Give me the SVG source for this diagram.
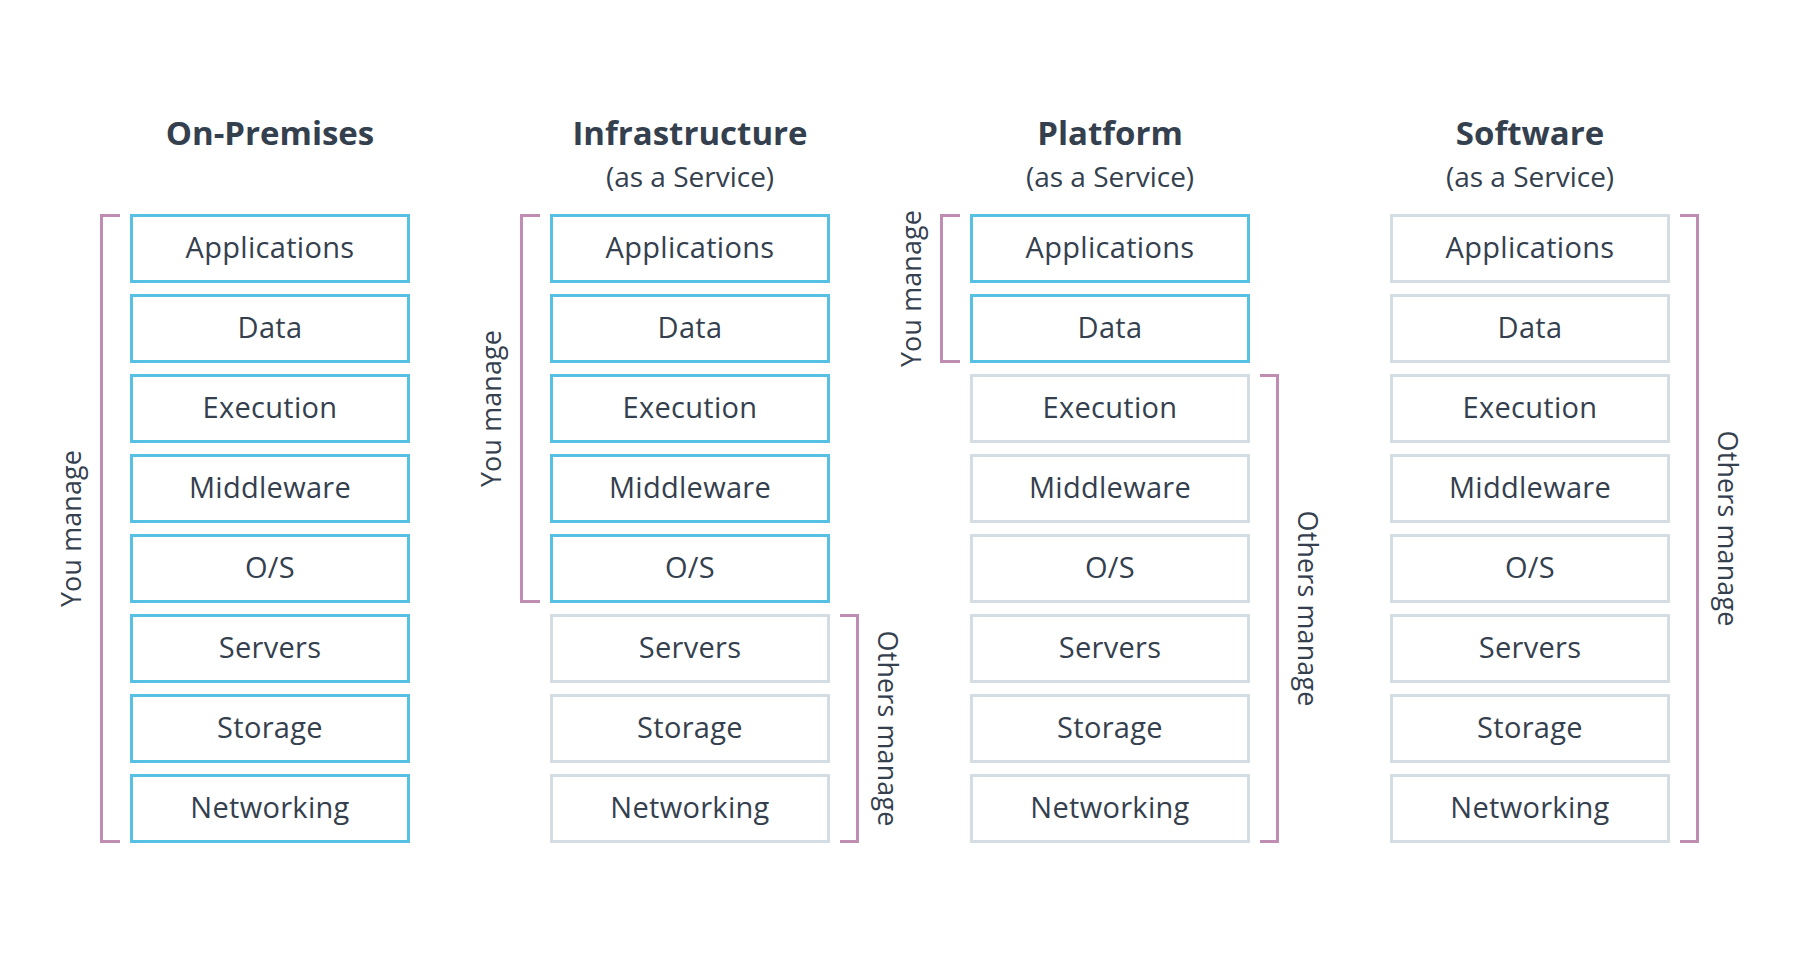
<svg xmlns="http://www.w3.org/2000/svg" width="1800" height="960" viewBox="0 0 1800 960">
<style>
.bg{fill:#ffffff}
.you rect{fill:#ffffff;stroke:#56c1e3;stroke-width:3}
.oth rect{fill:#ffffff;stroke:#d5dde4;stroke-width:3}
text{font-family:"Open Sans","Noto Sans","Liberation Sans",sans-serif;fill:#34404e}
.lbl{font-size:29px;text-anchor:middle;letter-spacing:0.3px}
.title{font-size:33px;font-weight:700;text-anchor:middle}
.sub{font-size:28px;text-anchor:middle}
.side{font-size:26.8px;text-anchor:middle;letter-spacing:0.2px}
.br{fill:none;stroke:#c08db2;stroke-width:3;stroke-linejoin:miter;stroke-linecap:butt}
</style>
<rect class="bg" x="0" y="0" width="1800" height="960"/>

<g id="col-onprem">
<text class="title" x="270" y="145">On-Premises</text>
<g id="onprem-applications" class="you"><rect x="131.5" y="215.5" width="277" height="66"/><text class="lbl" x="270" y="257.5">Applications</text></g>
<g id="onprem-data" class="you"><rect x="131.5" y="295.5" width="277" height="66"/><text class="lbl" x="270" y="337.5">Data</text></g>
<g id="onprem-execution" class="you"><rect x="131.5" y="375.5" width="277" height="66"/><text class="lbl" x="270" y="417.5">Execution</text></g>
<g id="onprem-middleware" class="you"><rect x="131.5" y="455.5" width="277" height="66"/><text class="lbl" x="270" y="497.5">Middleware</text></g>
<g id="onprem-os" class="you"><rect x="131.5" y="535.5" width="277" height="66"/><text class="lbl" x="270" y="577.5">O/S</text></g>
<g id="onprem-servers" class="you"><rect x="131.5" y="615.5" width="277" height="66"/><text class="lbl" x="270" y="657.5">Servers</text></g>
<g id="onprem-storage" class="you"><rect x="131.5" y="695.5" width="277" height="66"/><text class="lbl" x="270" y="737.5">Storage</text></g>
<g id="onprem-networking" class="you"><rect x="131.5" y="775.5" width="277" height="66"/><text class="lbl" x="270" y="817.5">Networking</text></g>
</g>

<g id="col-iaas">
<text class="title" x="690" y="145">Infrastructure</text>
<text class="sub" x="690" y="187">(as a Service)</text>
<g id="iaas-applications" class="you"><rect x="551.5" y="215.5" width="277" height="66"/><text class="lbl" x="690" y="257.5">Applications</text></g>
<g id="iaas-data" class="you"><rect x="551.5" y="295.5" width="277" height="66"/><text class="lbl" x="690" y="337.5">Data</text></g>
<g id="iaas-execution" class="you"><rect x="551.5" y="375.5" width="277" height="66"/><text class="lbl" x="690" y="417.5">Execution</text></g>
<g id="iaas-middleware" class="you"><rect x="551.5" y="455.5" width="277" height="66"/><text class="lbl" x="690" y="497.5">Middleware</text></g>
<g id="iaas-os" class="you"><rect x="551.5" y="535.5" width="277" height="66"/><text class="lbl" x="690" y="577.5">O/S</text></g>
<g id="iaas-servers" class="oth"><rect x="551.5" y="615.5" width="277" height="66"/><text class="lbl" x="690" y="657.5">Servers</text></g>
<g id="iaas-storage" class="oth"><rect x="551.5" y="695.5" width="277" height="66"/><text class="lbl" x="690" y="737.5">Storage</text></g>
<g id="iaas-networking" class="oth"><rect x="551.5" y="775.5" width="277" height="66"/><text class="lbl" x="690" y="817.5">Networking</text></g>
</g>

<g id="col-paas">
<text class="title" x="1110" y="145">Platform</text>
<text class="sub" x="1110" y="187">(as a Service)</text>
<g id="paas-applications" class="you"><rect x="971.5" y="215.5" width="277" height="66"/><text class="lbl" x="1110" y="257.5">Applications</text></g>
<g id="paas-data" class="you"><rect x="971.5" y="295.5" width="277" height="66"/><text class="lbl" x="1110" y="337.5">Data</text></g>
<g id="paas-execution" class="oth"><rect x="971.5" y="375.5" width="277" height="66"/><text class="lbl" x="1110" y="417.5">Execution</text></g>
<g id="paas-middleware" class="oth"><rect x="971.5" y="455.5" width="277" height="66"/><text class="lbl" x="1110" y="497.5">Middleware</text></g>
<g id="paas-os" class="oth"><rect x="971.5" y="535.5" width="277" height="66"/><text class="lbl" x="1110" y="577.5">O/S</text></g>
<g id="paas-servers" class="oth"><rect x="971.5" y="615.5" width="277" height="66"/><text class="lbl" x="1110" y="657.5">Servers</text></g>
<g id="paas-storage" class="oth"><rect x="971.5" y="695.5" width="277" height="66"/><text class="lbl" x="1110" y="737.5">Storage</text></g>
<g id="paas-networking" class="oth"><rect x="971.5" y="775.5" width="277" height="66"/><text class="lbl" x="1110" y="817.5">Networking</text></g>
</g>

<g id="col-saas">
<text class="title" x="1530" y="145">Software</text>
<text class="sub" x="1530" y="187">(as a Service)</text>
<g id="saas-applications" class="oth"><rect x="1391.5" y="215.5" width="277" height="66"/><text class="lbl" x="1530" y="257.5">Applications</text></g>
<g id="saas-data" class="oth"><rect x="1391.5" y="295.5" width="277" height="66"/><text class="lbl" x="1530" y="337.5">Data</text></g>
<g id="saas-execution" class="oth"><rect x="1391.5" y="375.5" width="277" height="66"/><text class="lbl" x="1530" y="417.5">Execution</text></g>
<g id="saas-middleware" class="oth"><rect x="1391.5" y="455.5" width="277" height="66"/><text class="lbl" x="1530" y="497.5">Middleware</text></g>
<g id="saas-os" class="oth"><rect x="1391.5" y="535.5" width="277" height="66"/><text class="lbl" x="1530" y="577.5">O/S</text></g>
<g id="saas-servers" class="oth"><rect x="1391.5" y="615.5" width="277" height="66"/><text class="lbl" x="1530" y="657.5">Servers</text></g>
<g id="saas-storage" class="oth"><rect x="1391.5" y="695.5" width="277" height="66"/><text class="lbl" x="1530" y="737.5">Storage</text></g>
<g id="saas-networking" class="oth"><rect x="1391.5" y="775.5" width="277" height="66"/><text class="lbl" x="1530" y="817.5">Networking</text></g>
</g>

<g id="brackets">
<path class="br" d="M120,215.5 H101.5 V841.5 H120"/>
<text class="side" transform="translate(81,528.5) rotate(-90)">You manage</text>
<path class="br" d="M540,215.5 H521.5 V601.5 H540"/>
<text class="side" transform="translate(501,408.5) rotate(-90)">You manage</text>
<path class="br" d="M840,615.5 H857.5 V841.5 H840"/>
<text class="side" transform="translate(878,728.5) rotate(90)">Others manage</text>
<path class="br" d="M960,215.5 H941.5 V361.5 H960"/>
<text class="side" transform="translate(921,288.5) rotate(-90)">You manage</text>
<path class="br" d="M1260,375.5 H1277.5 V841.5 H1260"/>
<text class="side" transform="translate(1298,608.5) rotate(90)">Others manage</text>
<path class="br" d="M1680,215.5 H1697.5 V841.5 H1680"/>
<text class="side" transform="translate(1718,528.5) rotate(90)">Others manage</text>
</g>
</svg>
